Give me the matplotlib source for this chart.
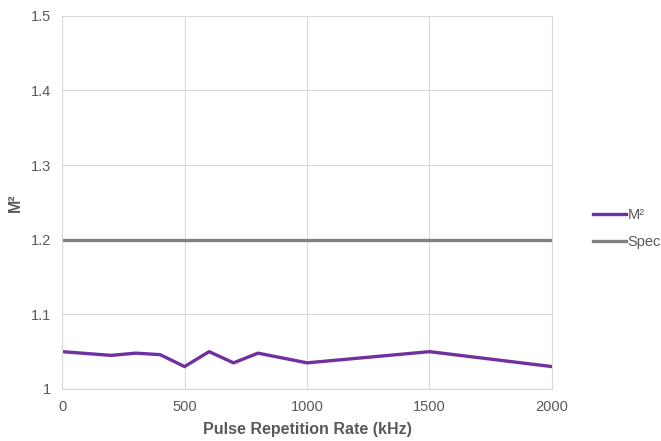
import matplotlib.pyplot as plt

rate_khz = [0, 200, 300, 400, 500, 600, 700, 800, 1000, 1500, 2000]
m2_values = [1.05, 1.045, 1.048, 1.046, 1.03, 1.05, 1.035, 1.048, 1.035, 1.05, 1.03]
spec_x = [0, 2000]
spec_values = [1.2, 1.2]

grey = "#595959"
plt.rcParams["font.family"] = ["Liberation Sans", "DejaVu Sans"]

fig = plt.figure(figsize=(6.61, 4.41), dpi=100)
ax = fig.add_axes([0.094, 0.118, 0.741, 0.846])

ax.plot(rate_khz, m2_values, color="#7030A0", lw=2.4, label="M²")
ax.plot(spec_x, spec_values, color="#808080", lw=2.4, label="Spec")

ax.set_xlim(0, 2000)
ax.set_ylim(1, 1.5)
ax.set_xticks([0, 500, 1000, 1500, 2000])
ax.set_yticks([1, 1.1, 1.2, 1.3, 1.4, 1.5])
ax.set_yticklabels(["1", "1.1", "1.2", "1.3", "1.4", "1.5"])
ax.grid(True, color="#d9d9d9", lw=0.8)
ax.set_axisbelow(True)
for side in ["top", "right", "left", "bottom"]:
    ax.spines[side].set_color("#d9d9d9")
ax.tick_params(length=0, colors=grey, labelsize=10.5, pad=8)

ax.set_xlabel("Pulse Repetition Rate (kHz)", color=grey, fontsize=11.5, fontweight="bold", labelpad=6)
ax.set_ylabel("M²", color=grey, fontsize=11.5, fontweight="bold", labelpad=6)

ax.legend(loc="center left", bbox_to_anchor=(1.058, 0.43), frameon=False,
          handlelength=2.2, handletextpad=0.15, labelspacing=0.9, fontsize=10.5,
          labelcolor=grey)

plt.savefig("out.png", dpi=100)
